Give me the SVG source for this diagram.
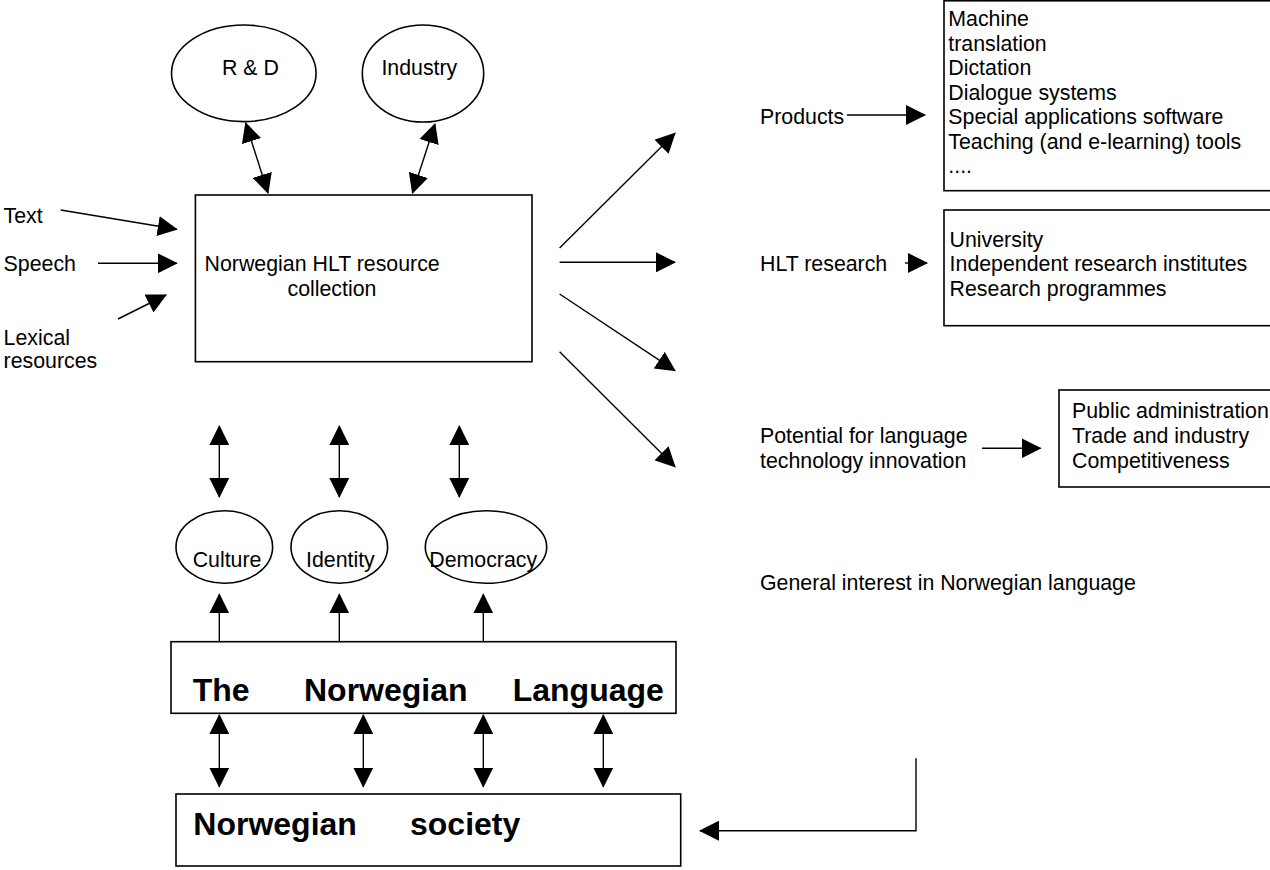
<svg xmlns="http://www.w3.org/2000/svg" width="1270" height="870" viewBox="0 0 1270 870">
<style>
  text { font-family: "Liberation Sans", Arial, sans-serif; font-size: 21.33px; fill: #000; }
  .b { font-weight: bold; font-size: 32px; }
  .shape { fill: #fff; stroke: #000; stroke-width: 1.6; }
  .ln { fill: none; stroke: #000; stroke-width: 1.4; }
  .one { marker-end: url(#ah); }
  .two { marker-start: url(#ah); marker-end: url(#ah); }
</style>
<defs>
  <marker id="ah" viewBox="0 0 20 20" markerWidth="20" markerHeight="20" refX="19" refY="10" orient="auto-start-reverse" markerUnits="userSpaceOnUse">
    <path d="M0,0 L20,10 L0,20 z" fill="#000"/>
  </marker>
</defs>
<rect width="1270" height="870" fill="#fff"/>

<g id="connectors">
  <line class="ln two" x1="245.7" y1="123" x2="268" y2="193"/>
  <line class="ln two" x1="435" y1="124" x2="412.5" y2="193"/>
  <line class="ln one" x1="60.7" y1="210" x2="176.8" y2="229.3"/>
  <line class="ln one" x1="98" y1="263.3" x2="176.8" y2="263.3"/>
  <line class="ln one" x1="118" y1="319" x2="166" y2="295"/>
  <line class="ln one" x1="559.6" y1="248" x2="675" y2="133.3"/>
  <line class="ln one" x1="559.6" y1="262.3" x2="675" y2="262.3"/>
  <line class="ln one" x1="559.6" y1="294" x2="675" y2="370.7"/>
  <line class="ln one" x1="559.6" y1="351.7" x2="675" y2="466.7"/>
  <line class="ln one" x1="847" y1="115" x2="925" y2="115"/>
  <line class="ln one" x1="905" y1="263" x2="927" y2="263"/>
  <line class="ln one" x1="982" y1="448.3" x2="1040.5" y2="448.3"/>
  <line class="ln two" x1="219.3" y1="426" x2="219.3" y2="497"/>
  <line class="ln two" x1="339.3" y1="426" x2="339.3" y2="497"/>
  <line class="ln two" x1="459.3" y1="426" x2="459.3" y2="497"/>
  <line class="ln one" x1="219.3" y1="641.7" x2="219.3" y2="594.3"/>
  <line class="ln one" x1="339.3" y1="641.7" x2="339.3" y2="594.3"/>
  <line class="ln one" x1="483.3" y1="641.7" x2="483.3" y2="594.3"/>
  <line class="ln two" x1="219.3" y1="715" x2="219.3" y2="786.7"/>
  <line class="ln two" x1="363.3" y1="715" x2="363.3" y2="786.7"/>
  <line class="ln two" x1="483.3" y1="715" x2="483.3" y2="786.7"/>
  <line class="ln two" x1="603.3" y1="715" x2="603.3" y2="786.7"/>
  <path class="ln one" d="M916,758.3 V830.7 H700"/>
</g>

<g id="rnd">
  <ellipse class="shape" cx="243.8" cy="73.3" rx="72.3" ry="48.3"/>
  <text x="222" y="75">R &amp; D</text>
</g>
<g id="industry">
  <ellipse class="shape" cx="423" cy="73.5" rx="60.7" ry="48.5"/>
  <text x="381.4" y="75">Industry</text>
</g>
<g id="hlt-collection">
  <rect class="shape" x="195.4" y="195" width="336.6" height="166.7"/>
  <text x="204.6" y="271">Norwegian HLT resource</text>
  <text x="287.5" y="295.5">collection</text>
</g>
<g id="inputs">
  <text x="3.6" y="222.5">Text</text>
  <text x="3.6" y="270.5">Speech</text>
  <text x="3.6" y="344.5">Lexical</text>
  <text x="3.6" y="368">resources</text>
</g>
<g id="products">
  <text x="760" y="124.3">Products</text>
</g>
<g id="products-box">
  <rect class="shape" x="944" y="0.8" width="340" height="189.9"/>
  <text x="948.3" y="26">Machine</text>
  <text x="948.3" y="50.5">translation</text>
  <text x="948.3" y="75">Dictation</text>
  <text x="948.3" y="99.5">Dialogue systems</text>
  <text x="948.3" y="124">Special applications software</text>
  <text x="948.3" y="148.5">Teaching (and e-learning) tools</text>
  <text x="948.3" y="173">....</text>
</g>
<g id="hlt-research">
  <text x="760" y="271">HLT research</text>
</g>
<g id="research-box">
  <rect class="shape" x="944" y="210" width="340" height="115.7"/>
  <text x="949.6" y="247">University</text>
  <text x="949.6" y="271">Independent research institutes</text>
  <text x="949.6" y="295.5">Research programmes</text>
</g>
<g id="potential">
  <text x="760" y="443">Potential for language</text>
  <text x="760" y="467.5">technology innovation</text>
</g>
<g id="innovation-box">
  <rect class="shape" x="1059" y="390" width="230" height="97"/>
  <text x="1072" y="417.5">Public administration</text>
  <text x="1072" y="442.5">Trade and industry</text>
  <text x="1072" y="467.5">Competitiveness</text>
</g>
<g id="general-interest">
  <text x="760" y="590">General interest in Norwegian language</text>
</g>
<g id="culture">
  <ellipse class="shape" cx="224.3" cy="547" rx="48.3" ry="36.3"/>
  <text x="192.7" y="566.7">Culture</text>
</g>
<g id="identity">
  <ellipse class="shape" cx="339.3" cy="547" rx="48.3" ry="36.3"/>
  <text x="306" y="566.7">Identity</text>
</g>
<g id="democracy">
  <ellipse class="shape" cx="486" cy="547" rx="60.7" ry="36.3"/>
  <text x="429.3" y="566.7">Democracy</text>
</g>
<g id="language">
  <rect class="shape" x="171" y="641.7" width="505" height="71.6"/>
  <text class="b" x="192.7" y="701">The</text>
  <text class="b" x="304" y="701">Norwegian</text>
  <text class="b" x="512.7" y="701">Language</text>
</g>
<g id="society">
  <rect class="shape" x="176" y="794" width="504.7" height="72"/>
  <text class="b" x="193.3" y="835">Norwegian</text>
  <text class="b" x="410" y="835">society</text>
</g>
</svg>
